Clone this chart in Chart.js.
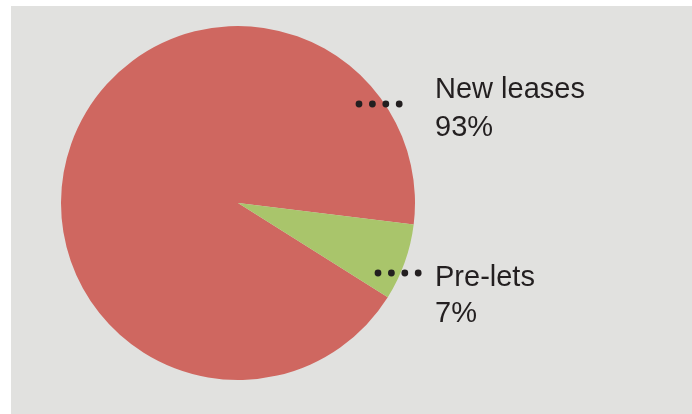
<!DOCTYPE html>
<html>
<head>
<meta charset="utf-8">
<script src="https://cdn.jsdelivr.net/npm/chart.js@4/dist/chart.umd.min.js"></script>
<style>
  html, body { margin: 0; padding: 0; background: #ffffff; }
  #wrap { position: absolute; left: 11px; top: 6px; width: 681px; height: 408px; background: #E1E1DF; }
  canvas { display: block; }
</style>
</head>
<body>
<div id="wrap"><canvas id="c" width="681" height="408"></canvas></div>
<script>
const categories = ["New leases", "Pre-lets"];
const shares = [93, 7];
const percentLabels = ["93%", "7%"];
const colors = ["#CF6760", "#A9C56B"];

// label placement relative to pie centre
const labelOffsets = [
  { dotsY: -99, dotsX0: 121, textDx: 20, nameY: -105.5, pctY: -67 },
  { dotsY: 70, dotsX0: 140, textDx: 20, nameY: 83, pctY: 119 }
];

const labelPlugin = {
  id: 'sideLabels',
  afterDraw(chart) {
    const ctx = chart.ctx;
    const arc = chart.getDatasetMeta(0).data[0];
    const cx = arc.x, cy = arc.y, r = arc.outerRadius;
    ctx.save();
    ctx.fillStyle = '#231F20';
    ctx.font = '29px "Liberation Sans", Arial, sans-serif';
    ctx.textAlign = 'left';
    ctx.textBaseline = 'alphabetic';
    categories.forEach((name, i) => {
      const o = labelOffsets[i];
      const tx = cx + r + o.textDx;
      ctx.fillText(name, tx, cy + o.nameY);
      ctx.fillText(percentLabels[i], tx, cy + o.pctY);
      for (let k = 0; k < 4; k++) {
        ctx.beginPath();
        ctx.arc(cx + o.dotsX0 + k * 13.4, cy + o.dotsY, 3.4, 0, Math.PI * 2);
        ctx.fill();
      }
    });
    ctx.restore();
  }
};

new Chart(document.getElementById('c'), {
  type: 'pie',
  data: {
    labels: categories,
    datasets: [{
      data: shares,
      backgroundColor: colors,
      borderWidth: 0
    }]
  },
  options: {
    responsive: false,
    animation: false,
    rotation: 122.2,
    layout: { padding: { left: 50, top: 20, right: 277, bottom: 34 } },
    plugins: { legend: { display: false }, tooltip: { enabled: false } }
  },
  plugins: [labelPlugin]
});
</script>
</body>
</html>
